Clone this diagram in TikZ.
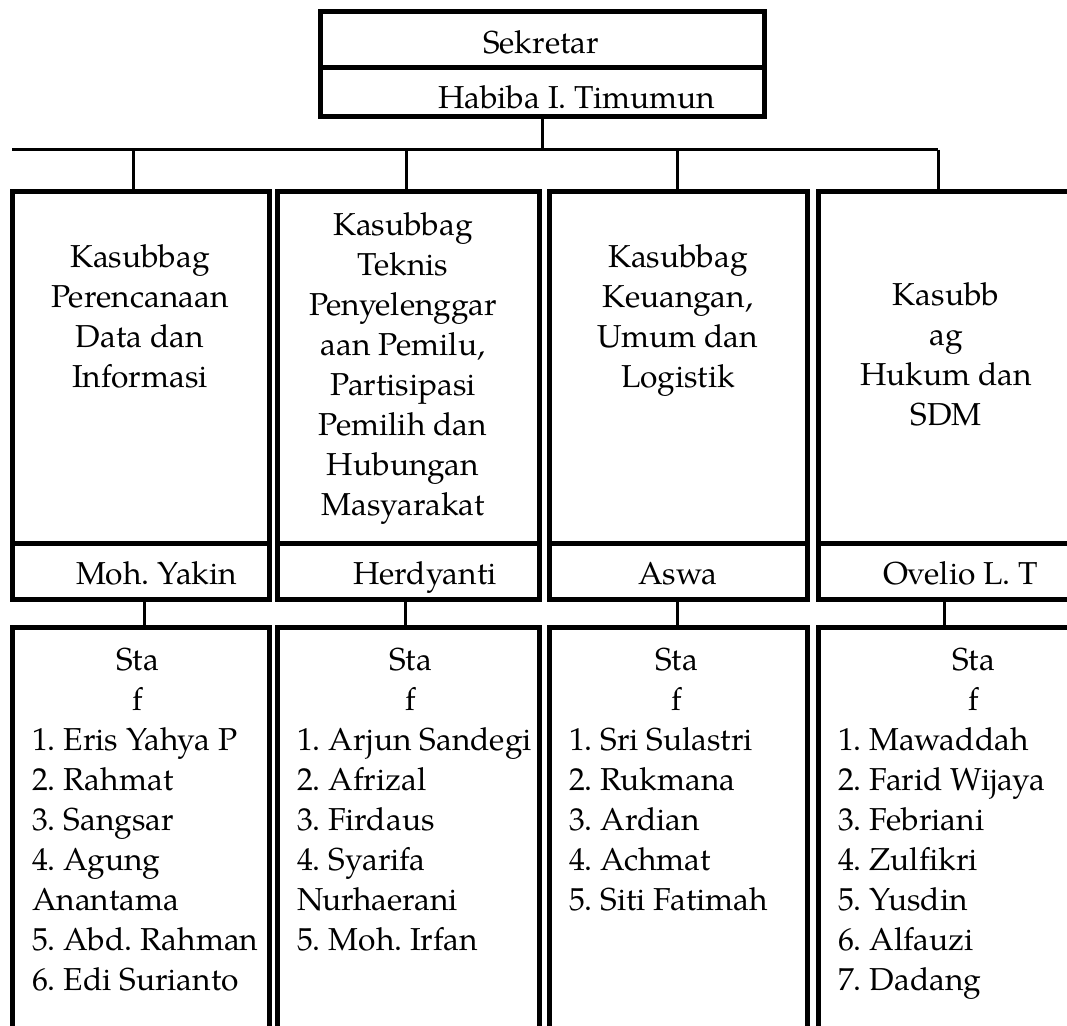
\documentclass[tikz,border=0pt]{standalone}
\usepackage{fontspec}
\setmainfont{TeX Gyre Pagella}
\frenchspacing
\newcommand\centerlines[1]{\vtop{\halign{\hfil##\hfil\cr#1\crcr}}}
\newcommand\leftlines[1]{\vtop{\halign{##\hfil\cr#1\crcr}}}
\begin{document}
\begin{tikzpicture}[x=1pt,y=-1pt,
  box/.style={draw, line width=5pt, rectangle, inner sep=0pt, outer sep=0pt},
  conn/.style={draw, line width=3pt},
  txt/.style={inner sep=0pt, outer sep=0pt, font=\frenchspacing\fontsize{31.7}{40}\selectfont}]
\useasboundingbox (0,0) rectangle (1067,1025);
\clip (0,0) rectangle (1067,1025);
% top boxes
\node[box, minimum width=444pt, minimum height=55pt] (sek) at (542,39.5) {};
\node[box, minimum width=444pt, minimum height=49pt] (hab) at (542,91.5) {};
% title boxes
\node[box, minimum width=257pt, minimum height=352pt] (t1) at (140.5,367) {};
\node[box, minimum width=262pt, minimum height=352pt] (t2) at (408,367) {};
\node[box, minimum width=258pt, minimum height=352pt] (t3) at (678,367) {};
\node[box, minimum width=260pt, minimum height=352pt] (t4) at (948,367) {};
% name boxes
\node[box, minimum width=257pt, minimum height=56pt] (n1) at (140.5,571) {};
\node[box, minimum width=262pt, minimum height=56pt] (n2) at (408,571) {};
\node[box, minimum width=258pt, minimum height=56pt] (n3) at (678,571) {};
\node[box, minimum width=260pt, minimum height=56pt] (n4) at (948,571) {};
% staff boxes
\node[box, minimum width=257pt, minimum height=418pt] (s1) at (140.5,836) {};
\node[box, minimum width=262pt, minimum height=418pt] (s2) at (408,836) {};
\node[box, minimum width=258pt, minimum height=418pt] (s3) at (678,836) {};
\node[box, minimum width=260pt, minimum height=418pt] (s4) at (948,836) {};
% connectors
\coordinate (busL) at (12,149.5);
\coordinate (busR) at (938,149.5);
\draw[conn] (hab.south) -- (hab.south |- busL);
\draw[conn] (busL) -- (busR);
\draw[conn] ([xshift=-7.5pt]t1.north) -- ([xshift=-7.5pt]t1.north |- busL);
\draw[conn] ([xshift=-2pt]t2.north) -- ([xshift=-2pt]t2.north |- busL);
\draw[conn] ([xshift=-1pt]t3.north) -- ([xshift=-1pt]t3.north |- busL);
\draw[conn] (busR) -- (busR |- t4.north);
\draw[conn] ([xshift=3.5pt]n1.south) -- ([xshift=3.5pt]s1.north);
\draw[conn] ([xshift=-3pt]n2.south) -- ([xshift=-3pt]s2.north);
\draw[conn] ([xshift=-1pt]n3.south) -- ([xshift=-1pt]s3.north);
\draw[conn] ([xshift=-4pt]n4.south) -- ([xshift=-4pt]s4.north);
% texts
\node[txt, anchor=base] (tsek) at (541,53) {Sekretar};
\node[txt, anchor=base west] (thab) at (438,108) {Habiba I. Timumun};
\node[txt, anchor=base] (tt1) at (140,267) {\centerlines{Kasubbag\cr Perencanaan\cr Data dan\cr Informasi}};
\node[txt, anchor=base] (tt2) at (403,235) {\centerlines{Kasubbag\cr Teknis\cr Penyelenggar\cr aan Pemilu,\cr Partisipasi\cr Pemilih dan\cr Hubungan\cr Masyarakat}};
\node[txt, anchor=base] (tt3) at (678,267) {\centerlines{Kasubbag\cr Keuangan,\cr Umum dan\cr Logistik}};
\node[txt, anchor=base] (tt4) at (946,305) {\centerlines{Kasubb\cr ag\cr Hukum dan\cr SDM}};
\node[txt, anchor=base west] (tn1) at (76,584) {Moh. Yakin};
\node[txt, anchor=base west] (tn2) at (353,584) {Herdyanti};
\node[txt, anchor=base west] (tn3) at (638,584) {Aswa};
\node[txt, anchor=base west] (tn4) at (883,584) {Ovelio L. T};
\node[txt, anchor=base] (sh1) at (138,670) {\centerlines{Sta\cr f}};
\node[txt, anchor=base] (sh2) at (411,670) {\centerlines{Sta\cr f}};
\node[txt, anchor=base] (sh3) at (677,670) {\centerlines{Sta\cr f}};
\node[txt, anchor=base] (sh4) at (974,670) {\centerlines{Sta\cr f}};
\node[txt, anchor=base west] (sl1) at (32,750) {\leftlines{1. Eris Yahya P\cr 2. Rahmat\cr 3. Sangsar\cr 4. Agung\cr Anantama\cr 5. Abd. Rahman\cr 6. Edi Surianto}};
\node[txt, anchor=base west] (sl2) at (297,750) {\leftlines{1. Arjun Sandegi\cr 2. Afrizal\cr 3. Firdaus\cr 4. Syarifa\cr Nurhaerani\cr 5. Moh. Irfan}};
\node[txt, anchor=base west] (sl3) at (569,750) {\leftlines{1. Sri Sulastri\cr 2. Rukmana\cr 3. Ardian\cr 4. Achmat\cr 5. Siti Fatimah}};
\node[txt, anchor=base west] (sl4) at (838,750) {\leftlines{1. Mawaddah\cr 2. Farid Wijaya\cr 3. Febriani\cr 4. Zulfikri\cr 5. Yusdin\cr 6. Alfauzi\cr 7. Dadang}};
\end{tikzpicture}
\end{document}
